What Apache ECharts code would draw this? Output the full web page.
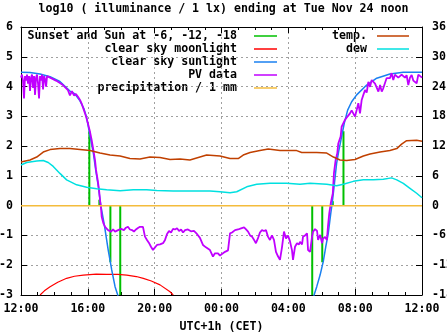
<!DOCTYPE html>
<html><head><meta charset="utf-8">
<script src="https://cdn.jsdelivr.net/npm/echarts@6/dist/echarts.min.js"></script>
<style>html,body{margin:0;padding:0;background:#fff}#c{width:447px;height:335px}</style>
</head><body><div id="c"></div>
<script>
const FONT = '"DejaVu Sans Mono", monospace';
const FS = 11.6;
const titleText = 'log10 ( illuminance / 1 lx) ending at Tue Nov 24 noon';
const xAxisName = 'UTC+1h (CET)';
const xTickLabels = ['12:00', '16:00', '20:00', '00:00', '04:00', '08:00', '12:00'];
const seriesNames = ['Sunset and Sun at -6, -12, -18', 'clear sky moonlight', 'clear sky sunlight', 'PV data', 'precipitation / 1 mm', 'temp.', 'dew'];
const seriesColors = ['#00c000', '#ff0000', '#1a80f0', '#c000ff', '#f4bc3c', '#c04000', '#00e0e0'];

// x values: hours after Mon 12:00
const sunHours = [4.09, 4.69, 5.35, 5.94, 17.43, 18.03, 18.66, 19.30];
const sunValues = [2.5, 0.2, -1.9, -3.0, -3.0, -1.9, 0.15, 2.5];

const moonHours = [1.14, 1.40, 1.74, 2.20, 2.73, 3.20, 3.73, 4.50, 5.13, 5.80, 6.33, 6.90, 7.32, 7.80, 8.32, 8.92, 9.11];
const moonValues = [-3.0, -2.86, -2.72, -2.57, -2.44, -2.37, -2.33, -2.30, -2.31, -2.31, -2.33, -2.38, -2.44, -2.53, -2.66, -2.89, -3.0];

const sunlightHours = [0.00, 0.54, 1.14, 1.74, 2.33, 2.93, 3.23, 3.53, 3.77, 3.93, 4.13, 4.33, 4.47, 4.63, 4.73, 4.79, 4.99, 5.22, 5.43, 5.63, 5.79, 5.95,
  17.40, 17.54, 17.70, 17.90, 18.09, 18.24, 18.39, 18.54, 18.63, 18.75, 18.89, 19.03, 19.19, 19.35, 19.55, 19.79, 20.09, 20.69, 21.29, 22.08, 22.88, 24.00];
const sunlightValues = [4.48, 4.47, 4.42, 4.33, 4.17, 3.85, 3.75, 3.52, 3.25, 2.95, 2.35, 1.76, 1.20, 0.64, 0.19, -0.03, -0.65, -1.49, -2.16, -2.72, -3.0, -3.4,
  -3.4, -3.0, -2.72, -2.33, -1.88, -1.38, -0.93, -0.26, 0.10, 0.70, 1.42, 1.87, 2.32, 2.77, 3.21, 3.49, 3.72, 4.05, 4.28, 4.42, 4.48, 4.48];

const pvHours = [0.00, 0.06, 0.12, 0.18, 0.24, 0.30, 0.36, 0.42, 0.48, 0.54, 0.60, 0.66, 0.72, 0.78, 0.84, 0.90, 0.96, 1.02, 1.08, 1.14,
  1.20, 1.26, 1.32, 1.38, 1.44, 1.50, 1.56, 1.62, 1.74, 1.92, 2.09, 2.33, 2.51, 2.69, 2.81, 2.93, 3.05, 3.17, 3.29, 3.41,
  3.53, 3.65, 3.77, 3.89, 4.01, 4.13, 4.23, 4.33, 4.43, 4.49, 4.59, 4.67, 4.73, 4.79, 4.83, 4.93, 5.03, 5.21, 5.39, 5.51,
  5.63, 5.81, 5.99, 6.16, 6.28, 6.40, 6.52, 6.64, 6.76, 6.88, 7.00, 7.12, 7.30, 7.42, 7.54, 7.66, 7.78, 7.90, 8.02, 8.14,
  8.32, 8.50, 8.62, 8.74, 8.86, 8.98, 9.10, 9.22, 9.34, 9.46, 9.58, 9.70, 9.82, 9.99, 10.17, 10.35, 10.53, 10.71, 10.89, 11.07,
  11.31, 11.49, 11.61, 11.79, 11.91, 12.03, 12.21, 12.39, 12.51, 12.63, 12.81, 12.99, 13.17, 13.35, 13.47, 13.59, 13.71, 13.83, 13.95, 14.06,
  14.18, 14.30, 14.42, 14.54, 14.66, 14.78, 14.90, 15.02, 15.14, 15.26, 15.38, 15.50, 15.62, 15.74, 15.86, 15.98, 16.10, 16.22, 16.28, 16.40,
  16.52, 16.64, 16.70, 16.82, 16.88, 17.00, 17.12, 17.18, 17.30, 17.42, 17.48, 17.60, 17.72, 17.78, 17.90, 18.02, 18.08, 18.20, 18.31, 18.37,
  18.45, 18.54, 18.66, 18.73, 18.83, 18.93, 18.99, 19.13, 19.19, 19.29, 19.39, 19.55, 19.69, 19.79, 19.89, 19.99, 20.09, 20.19, 20.29, 20.39,
  20.49, 20.59, 20.69, 20.79, 20.89, 20.99, 21.09, 21.19, 21.29, 21.39, 21.49, 21.59, 21.68, 21.78, 21.88, 21.98, 22.08, 22.18, 22.28, 22.38,
  22.49, 22.58, 22.68, 22.78, 22.88, 22.98, 23.08, 23.18, 23.28, 23.38, 23.48, 23.58, 23.68, 23.78, 23.88, 24.00];
const pvValues = [4.30, 4.40, 4.20, 3.60, 4.35, 4.20, 4.40, 4.10, 4.35, 3.85, 4.30, 4.40, 3.95, 4.35, 3.72, 4.30, 4.40, 4.10, 3.60, 4.35,
  4.20, 4.40, 3.90, 4.35, 4.25, 4.00, 4.35, 4.30, 4.30, 4.25, 4.20, 4.12, 4.05, 3.95, 3.88, 3.70, 3.85, 3.70, 3.75, 3.66,
  3.55, 3.40, 3.20, 3.00, 2.75, 2.48, 2.20, 1.87, 1.53, 1.20, 0.86, 0.53, 0.19, -0.09, -0.37, -0.59, -0.71, -0.82, -0.87, -0.80,
  -0.87, -0.82, -0.78, -0.82, -0.74, -0.71, -0.80, -0.82, -0.87, -0.80, -0.75, -0.71, -0.71, -1.04, -1.15, -1.25, -1.38, -1.49, -1.40, -1.32,
  -1.30, -1.26, -1.15, -0.95, -0.85, -0.90, -0.78, -0.80, -0.76, -0.85, -0.80, -0.90, -0.82, -0.80, -0.86, -0.85, -0.95, -1.08, -1.32, -1.40,
  -1.49, -1.71, -1.60, -1.60, -1.68, -1.62, -1.55, -1.50, -0.93, -0.90, -0.82, -0.80, -0.76, -0.73, -0.80, -0.87, -1.00, -1.04, -1.15, -1.26,
  -1.10, -0.90, -0.82, -0.85, -0.82, -1.04, -1.15, -1.00, -1.15, -1.55, -1.70, -1.82, -1.40, -0.87, -1.10, -1.00, -1.20, -1.50, -1.82, -1.38,
  -1.26, -1.30, -1.21, -1.30, -1.04, -1.00, -0.93, -1.49, -1.55, -1.04, -0.87, -0.79, -0.85, -1.15, -0.98, -1.26, -1.10, -1.05, -1.15, -0.71,
  -0.26, 0.08, 0.41, 1.09, 1.53, 1.76, 2.09, 2.32, 2.65, 2.70, 2.88, 3.00, 3.10, 3.20, 3.21, 2.99, 3.21, 3.44, 3.10, 3.55,
  3.72, 3.88, 3.80, 4.16, 3.99, 4.22, 4.16, 4.10, 4.05, 3.83, 4.05, 3.83, 3.94, 4.11, 4.28, 4.25, 4.28, 4.45, 4.22, 4.40,
  4.45, 4.30, 4.33, 4.40, 4.45, 4.30, 4.38, 4.05, 4.30, 4.39, 4.20, 4.22, 4.11, 4.40, 4.39, 4.30];

const precipHours = [0, 2, 4, 6, 8, 10, 12, 14, 16, 18, 20, 22, 24];
const precipValues = [0, 0, 0, 0, 0, 0, 0, 0, 0, 0, 0, 0, 0];

const tempHours = [0.00, 0.54, 0.94, 1.33, 1.74, 2.33, 2.93, 3.53, 4.13, 4.73, 5.33, 5.93, 6.52, 7.12, 7.72, 8.32, 8.92, 9.52, 10.11, 10.71,
  11.11, 11.91, 12.51, 13.00, 13.30, 13.71, 14.30, 14.80, 15.50, 16.50, 16.80, 17.70, 18.30, 18.70, 19.09, 19.49, 19.99, 20.49, 20.89, 21.49,
  22.08, 22.49, 22.78, 23.08, 23.68, 24.00];
const tempValues = [8.8, 9.2, 9.8, 10.8, 11.3, 11.5, 11.5, 11.3, 11.1, 10.6, 10.2, 10.0, 9.5, 9.4, 9.8, 9.7, 9.3, 9.4, 9.2, 9.8,
  10.2, 10.0, 9.5, 9.5, 10.2, 10.7, 11.1, 11.4, 11.1, 11.1, 10.7, 10.7, 10.6, 9.8, 9.2, 9.1, 9.3, 10.0, 10.4, 10.8,
  11.1, 11.5, 12.4, 13.1, 13.2, 13.0];

const dewHours = [0.00, 0.34, 0.94, 1.33, 1.63, 1.93, 2.33, 2.73, 3.33, 3.93, 4.53, 5.13, 5.93, 6.72, 7.52, 8.12, 9.11, 10.31, 11.31, 11.91,
  12.51, 12.91, 13.51, 14.11, 14.90, 15.90, 16.70, 17.30, 18.30, 18.89, 19.29, 19.89, 20.49, 21.09, 21.68, 22.18, 22.49, 22.88, 23.28, 23.68, 24.00];
const dewValues = [8.2, 8.7, 9.0, 9.1, 8.7, 7.9, 6.5, 5.2, 4.2, 3.7, 3.4, 3.2, 3.0, 3.2, 3.2, 3.05, 2.95, 2.95, 2.95, 2.8,
  2.6, 2.8, 3.8, 4.3, 4.5, 4.5, 4.3, 4.5, 4.3, 4.0, 4.3, 4.9, 5.2, 5.2, 5.3, 5.6, 5.2, 4.5, 3.5, 2.5, 1.6];

const yLeftTicks = { min: -3, max: 6, interval: 1 };
const yRightTicks = { min: -18, max: 36, interval: 6 };

function pairs(xs, ys) { return xs.map((x, i) => [x, ys[i]]); }

const chart = echarts.init(document.getElementById('c'), null, { renderer: 'canvas' });
const txt = { fontFamily: FONT, fontWeight: 'bold', fontSize: FS, color: '#000' };
const gridLine = { show: true, lineStyle: { color: '#a0a0a0', type: [2, 3], width: 1 } };
const axisLineBlack = { show: true, onZero: false, lineStyle: { color: '#000', width: 1 } };

function lineSeries(idx, xs, ys, width, yAxisIndex) {
  return {
    name: seriesNames[idx], type: 'line', data: pairs(xs, ys), yAxisIndex: yAxisIndex || 0,
    showSymbol: false, symbol: 'none', animation: false, clip: true,
    lineStyle: { color: seriesColors[idx], width: width }, itemStyle: { color: seriesColors[idx] }
  };
}

// legend drawn as graphic (gnuplot-style key: text right-aligned, sample line to its right)
const legendLeft = [0, 1, 2, 3, 4];
const legendRight = [5, 6];
const rowY = [36, 49, 62, 75, 88];
const graphics = [];
legendLeft.forEach((si, r) => {
  graphics.push({ type: 'text', x: 237, y: rowY[r], style: { text: seriesNames[si], font: 'bold ' + FS + 'px ' + FONT, fill: '#000', textAlign: 'right', textVerticalAlign: 'middle' } });
  graphics.push({ type: 'line', shape: { x1: 254, y1: rowY[r], x2: 277, y2: rowY[r] }, style: { stroke: seriesColors[si], lineWidth: 1.5 } });
});
legendRight.forEach((si, r) => {
  graphics.push({ type: 'text', x: 367, y: rowY[r], style: { text: seriesNames[si], font: 'bold ' + FS + 'px ' + FONT, fill: '#000', textAlign: 'right', textVerticalAlign: 'middle' } });
  graphics.push({ type: 'line', shape: { x1: 377, y1: rowY[r], x2: 409, y2: rowY[r] }, style: { stroke: seriesColors[si], lineWidth: 1.5 } });
});

chart.setOption({
  animation: false,
  backgroundColor: '#fff',
  title: { text: titleText, left: 'center', top: 3, textStyle: txt, padding: 0 },
  grid: { left: 21, right: 25, top: 27, bottom: 40, containLabel: false, outerBoundsMode: 'none' },
  xAxis: [
    {
      type: 'value', min: 0, max: 24, interval: 4, position: 'bottom',
      axisLine: axisLineBlack,
      axisTick: { show: true, inside: true, length: 6, lineStyle: { color: '#000' } },
      minorTick: { show: true, splitNumber: 4, length: 3, lineStyle: { color: '#000' } },
      splitLine: gridLine,
      axisLabel: { ...txt, margin: 8, formatter: v => xTickLabels[Math.round(v / 4)] },
      name: xAxisName, nameLocation: 'middle', nameGap: 26, nameTextStyle: txt
    },
    {
      type: 'value', min: 0, max: 24, interval: 4, position: 'top',
      axisLine: axisLineBlack,
      axisTick: { show: true, inside: true, length: 6, lineStyle: { color: '#000' } },
      minorTick: { show: true, splitNumber: 4, length: 3, lineStyle: { color: '#000' } },
      splitLine: { show: false }, axisLabel: { show: false }
    }
  ],
  yAxis: [
    {
      type: 'value', ...yLeftTicks, position: 'left',
      axisLine: axisLineBlack,
      axisTick: { show: true, inside: true, length: 6, lineStyle: { color: '#000' } },
      splitLine: gridLine,
      axisLabel: { ...txt, margin: 8 }
    },
    {
      type: 'value', ...yRightTicks, position: 'right',
      axisLine: axisLineBlack,
      axisTick: { show: true, inside: true, length: 6, lineStyle: { color: '#000' } },
      splitLine: { show: false },
      axisLabel: { ...txt, margin: 10 }
    }
  ],
  graphic: graphics,
  series: [
    {
      name: seriesNames[0], type: 'bar', data: pairs(sunHours, sunValues), barWidth: 2,
      itemStyle: { color: seriesColors[0] }, animation: false
    },
    lineSeries(1, moonHours, moonValues, 1.2),
    lineSeries(2, sunlightHours, sunlightValues, 1.5),
    lineSeries(3, pvHours, pvValues, 1.8),
    lineSeries(4, precipHours, precipValues, 1.5),
    lineSeries(5, tempHours, tempValues, 1.5, 1),
    lineSeries(6, dewHours, dewValues, 1.5, 1)
  ]
});
</script>
</body></html>
